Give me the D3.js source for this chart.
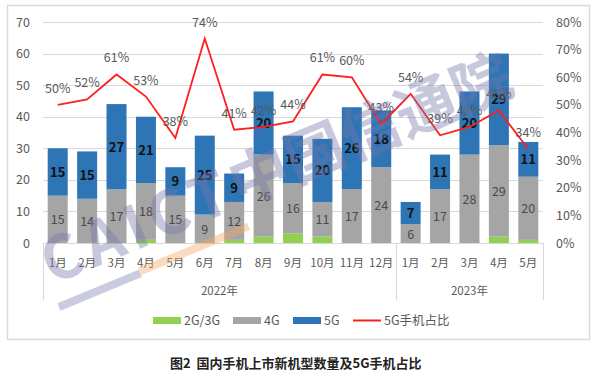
<!DOCTYPE html>
<html><head><meta charset="utf-8">
<script src="https://cdn.jsdelivr.net/npm/d3@7/dist/d3.min.js"></script>
<style>body{margin:0;background:#fff}svg{display:block}text{font-family:"Noto Sans CJK SC","Noto Sans",sans-serif}</style>
</head><body>
<svg id="c" width="600" height="385"></svg>
<script>
const months = ["1月","2月","3月","4月","5月","6月","7月","8月","9月","10月","11月","12月","1月","2月","3月","4月","5月"];
const years = ["2022年","2022年","2022年","2022年","2022年","2022年","2022年","2022年","2022年","2022年","2022年","2022年","2023年","2023年","2023年","2023年","2023年"];
const g23 = [0,0,0,1,0,0,1,2,3,2,0,0,0,0,0,2,1];
const g4 = [15,14,17,18,15,9,12,26,16,11,17,24,6,17,28,29,20];
const g5 = [15,15,27,21,9,25,9,20,15,20,26,18,7,11,20,29,11];
const share = [50,52,61,53,38,74,41,42,44,61,60,43,54,39,42,48,34];
const leftTicks = [0,10,20,30,40,50,60,70];
const rightTicks = [0,10,20,30,40,50,60,70,80];
const seriesNames = ["2G/3G","4G","5G","5G手机占比"];
const colors = ["#92D050","#A5A5A5","#2E75B6","#FF1E1E"];

const svg = d3.select("#c");
svg.append("rect").attr("x",7.5).attr("y",5.5).attr("width",582).attr("height",334)
  .attr("fill","#fff").attr("stroke","#D9D9D9").attr("stroke-width",1.5);

const L=43,R=543,T=22,B=243;
const idx = d3.range(months.length);
const x = d3.scaleBand().domain(idx).range([L,R]);
const y = d3.scaleLinear().domain([0,70]).range([B,T]);
const yr = d3.scaleLinear().domain([0,80]).range([B,T]);
const bw = x.bandwidth()*0.68, off = x.bandwidth()*0.16;

// gridlines
svg.append("g").selectAll("line").data(leftTicks).join("line")
  .attr("x1",L).attr("x2",R).attr("y1",d=>Math.round(y(d))+0.5).attr("y2",d=>Math.round(y(d))+0.5)
  .attr("stroke","#D9D9D9").attr("stroke-width",1);

// left axis labels
svg.append("g").selectAll("text").data(leftTicks).join("text")
  .attr("x",30).attr("y",d=>y(d)+4.5).attr("text-anchor","end")
  .attr("font-size",12.5).attr("fill","#595959").text(d=>d);
// right axis labels
svg.append("g").selectAll("text").data(rightTicks).join("text")
  .attr("x",556).attr("y",d=>yr(d)+4.5).attr("text-anchor","start")
  .attr("font-size",12.5).attr("fill","#595959").text(d=>d+"%");

// stacked bars
const stackData = idx.map(i=>({i, a:g23[i], b:g4[i], c:g5[i]}));
const stack = d3.stack().keys(["a","b","c"])(stackData);
svg.append("g").selectAll("g").data(stack).join("g").attr("fill",(d,k)=>colors[k])
  .selectAll("rect").data(d=>d).join("rect")
  .attr("x",d=>x(d.data.i)+off).attr("width",bw)
  .attr("y",d=>y(d[1])).attr("height",d=>y(d[0])-y(d[1]));

// bar labels
svg.append("g").selectAll("text").data(stack[1]).join("text")
  .attr("x",d=>x(d.data.i)+x.bandwidth()/2).attr("y",d=>(y(d[0])+y(d[1]))/2+5)
  .attr("text-anchor","middle").attr("font-size",12.5).attr("fill","#4a4a4a").text(d=>d.data.b);
svg.append("g").selectAll("text").data(stack[2]).join("text")
  .attr("x",d=>x(d.data.i)+x.bandwidth()/2).attr("y",d=>(y(d[0])+y(d[1]))/2+5)
  .attr("text-anchor","middle").attr("font-size",13).attr("font-weight","bold").attr("fill","#111").text(d=>d.data.c);

// x axis
svg.append("line").attr("x1",L).attr("x2",R).attr("y1",B+0.5).attr("y2",B+0.5).attr("stroke","#D9D9D9");
const yearGroups = d3.groups(idx, i=>years[i]);
const seps = [L].concat(yearGroups.map(g=>x(g[1][g[1].length-1])+x.bandwidth()));
svg.append("g").selectAll("line").data(seps).join("line")
  .attr("x1",d=>Math.round(d)+0.5).attr("x2",d=>Math.round(d)+0.5).attr("y1",B).attr("y2",300)
  .attr("stroke","#D9D9D9");
svg.append("g").selectAll("text").data(idx).join("text")
  .attr("x",i=>x(i)+x.bandwidth()/2).attr("y",267).attr("text-anchor","middle")
  .attr("font-size",11.5).attr("fill","#595959").text(i=>months[i]);
svg.append("g").selectAll("text").data(yearGroups).join("text")
  .attr("x",g=>(x(g[1][0])+x(g[1][g[1].length-1])+x.bandwidth())/2).attr("y",295)
  .attr("text-anchor","middle").attr("font-size",11.5).attr("fill","#595959").text(g=>g[0]);

// line
const line = d3.line().x(i=>x(i)+x.bandwidth()/2).y(i=>yr(share[i]));
svg.append("path").datum(idx).attr("d",line).attr("fill","none")
  .attr("stroke",colors[3]).attr("stroke-width",1.8).attr("stroke-linejoin","miter");
svg.append("g").selectAll("text").data(idx).join("text")
  .attr("x",i=>x(i)+x.bandwidth()/2).attr("y",i=>yr(share[i])-12)
  .attr("text-anchor","middle").attr("font-size",12.5).attr("fill","#595959").text(i=>share[i]+"%");

// watermark
const wm = svg.append("g").attr("transform","translate(52,285) rotate(-22.5)").attr("opacity",0.4);
wm.append("rect").attr("x",-2).attr("y",19).attr("width",88).attr("height",8).attr("fill","#8080b0");
wm.append("rect").attr("x",86).attr("y",17).attr("width",118).attr("height",8).attr("fill","#f5a860");
const wt = wm.append("text").attr("x",0).attr("y",0).attr("font-size",60).attr("font-weight","bold")
  .attr("fill","#7777aa");
wt.append("tspan").attr("letter-spacing",6).text("CAICT");
wt.append("tspan").text("中国信通院");

// legend
const lx = [153,233,293,353];
const leg = svg.append("g");
seriesNames.forEach((n,k)=>{
  if(k<3) leg.append("rect").attr("x",lx[k]).attr("y",317).attr("width",28).attr("height",7).attr("fill",colors[k]);
  else leg.append("line").attr("x1",lx[k]).attr("x2",lx[k]+28).attr("y1",320.5).attr("y2",320.5).attr("stroke",colors[k]).attr("stroke-width",2);
  leg.append("text").attr("x",lx[k]+31).attr("y",325).attr("font-size",12.5).attr("fill","#595959").text(n);
});

// caption
svg.append("text").attr("x",170).attr("y",368).attr("font-size",13).attr("font-weight","bold")
  .attr("fill","#222").attr("xml:space","preserve").text("图2  国内手机上市新机型数量及5G手机占比");
</script>
</body></html>
